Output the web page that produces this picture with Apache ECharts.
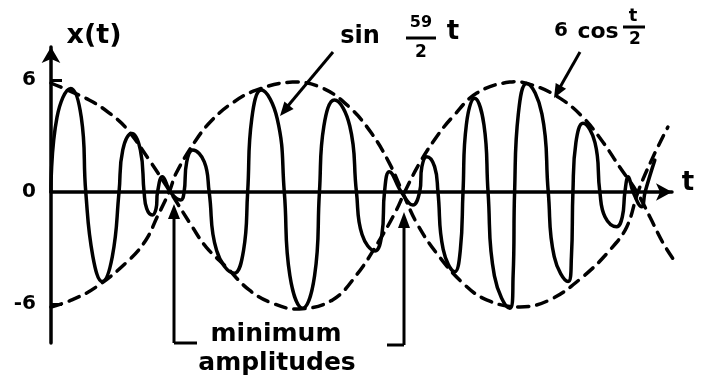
<!DOCTYPE html>
<html>
<head>
<meta charset="utf-8">
<script src="https://cdn.jsdelivr.net/npm/echarts@6/dist/echarts.min.js"></script>
<style>
  html, body { margin: 0; padding: 0; background: #fff; }
  #main { width: 704px; height: 382px; }
</style>
</head>
<body>
<div id="main"></div>
<script>
// x(t): hand drawn oscillation as [t, x]
// (zero crossings, extrema and the shoulders of each lobe)
var signal = [
  [0, 0], [0.16, 4.0], [0.53, 5.55], [0.81, 4.0], [0.93, 0],
  [1.12, -3.46], [1.37, -4.8], [1.64, -3.46], [1.82, 0],
  [1.92, 2.26], [2.16, 3.14], [2.39, 2.26], [2.49, 0],
  [2.56, -0.89], [2.71, -1.23], [2.81, -0.89], [2.85, 0],
  [2.98, 0.82], [3.21, -0.05], [3.47, -0.43], [3.56, 0],
  [3.63, 1.62], [3.79, 2.25], [4.1, 1.62], [4.23, 0],
  [4.43, -3.13], [4.9, -4.35], [5.15, -3.13], [5.26, 0],
  [5.37, 3.93], [5.62, 5.46], [6.05, 3.93], [6.24, 0],
  [6.39, -4.49], [6.73, -6.23], [7.05, -4.49], [7.18, 0],
  [7.3, 3.55], [7.58, 4.93], [7.99, 3.55], [8.17, 0],
  [8.32, -2.28], [8.67, -3.16], [8.85, -2.28], [8.92, 0],
  [9.05, 1.09], [9.37, 0], [9.68, -0.7], [9.86, 0],
  [9.92, 1.36], [10.05, 1.89], [10.26, 1.36], [10.35, 0],
  [10.49, -3.07], [10.8, -4.27], [10.95, -3.07], [11.02, 0],
  [11.11, 3.61], [11.33, 5.02], [11.58, 3.61], [11.69, 0],
  [11.86, -4.49], [12.27, -6.23], [12.36, -4.49], [12.4, 0],
  [12.5, 4.19], [12.72, 5.82], [13.13, 4.19], [13.3, 0],
  [13.46, -3.46], [13.83, -4.8], [13.92, -3.46], [13.96, 0],
  [14.04, 2.65], [14.23, 3.68], [14.55, 2.65], [14.68, 0],
  [14.82, -1.34], [15.13, -1.86], [15.28, -1.34], [15.35, 0],
  [15.44, 0.82], [15.57, 0], [15.8, -0.79], [15.89, 0], [16.15, 1.71]
]

// dashed envelope 6cos(t/2), as drawn
var envUpper = [
  [0, 5.84], [1.02, 4.93], [1.56, 4.23], [2.01, 3.43], [2.63, 1.71], [3.19, 0],
  [3.78, -1.87], [4.15, -2.95], [4.69, -4.02], [5.3, -5.25], [5.91, -5.95], [6.64, -6.27],
  [7.53, -5.78], [8.17, -4.45], [8.79, -2.57], [9.24, -0.96], [9.46, 0], [9.86, 1.55],
  [10.31, 2.95], [10.74, 4.02], [11.39, 5.3], [12.27, 5.89], [12.88, 5.73], [13.61, 5.03],
  [14.22, 4.02], [14.76, 2.68], [15.21, 1.34], [15.67, 0], [16.02, -1.34], [16.37, -2.73],
  [16.66, -3.64]
]

// mirror envelope -6cos(t/2)
var envLower = [
  [0, -6.16], [0.56, -5.78], [1.21, -5.09], [2.09, -3.64], [2.54, -2.57], [2.84, -1.34],
  [3.16, 0], [3.35, 1.02], [3.88, 2.79], [4.31, 3.86], [4.85, 4.77], [5.49, 5.46],
  [6.46, 5.89], [7.26, 5.57], [7.98, 4.55], [8.57, 3.16], [9.05, 1.55], [9.4, 0],
  [9.78, -1.66], [10.31, -3.27], [11.01, -4.87], [11.65, -5.78], [12.54, -6.16],
  [13.34, -5.78], [14.22, -4.55], [14.95, -3.11], [15.4, -1.87], [15.7, 0], [16.1, 1.87],
  [16.5, 3.48]
]

var yLabelValues = [-6, 0, 6]
var yTickValues = [-6, 6]

var FONT = 'DejaVu Sans'
var INK = '#000'

function txt (x, y, s, size) {
  return { type: 'text', x: x, y: y, z: 10, style: { text: s, fill: INK, font: 'bold ' + size + 'px "' + FONT + '"', align: 'center', verticalAlign: 'middle' } }
}
function seg (x1, y1, x2, y2) {
  return { type: 'line', shape: { x1: x1, y1: y1, x2: x2, y2: y2 }, style: { stroke: INK, lineWidth: 3 }, z: 10 }
}
function head (pts) {
  return { type: 'polygon', shape: { points: pts }, style: { fill: INK }, z: 10 }
}

// one free spline through all points (line series smoothing clamps and makes the tops pointy)
function curve (name, pts, smooth, dash) {
  return {
    name: name,
    type: 'custom',
    coordinateSystem: 'cartesian2d',
    data: pts,
    encode: { x: 0, y: 1 },
    renderItem: function (params, api) {
      if (params.dataIndex !== 0) return null
      return {
        type: 'polyline',
        shape: { points: pts.map(function (p) { return api.coord(p) }), smooth: smooth },
        style: { stroke: INK, fill: null, lineWidth: 3.5, lineDash: dash || null, lineJoin: 'round', lineCap: 'round' }
      }
    }
  }
}

var chart = echarts.init(document.getElementById('main'))
chart.setOption({
  animation: false,
  backgroundColor: '#fff',
  grid: { left: 51, right: 32, top: 47, bottom: 39 },
  xAxis: {
    type: 'value',
    min: 0,
    max: 16.61,
    axisLine: { show: true, onZero: true, symbol: ['none', 'arrow'], symbolSize: [13, 16], lineStyle: { color: INK, width: 3.5 } },
    axisTick: { show: false },
    axisLabel: { show: false },
    splitLine: { show: false }
  },
  yAxis: {
    type: 'value',
    min: -8.09,
    max: 7.77,
    axisLine: { show: true, symbol: ['none', 'arrow'], symbolSize: [14, 16], lineStyle: { color: INK, width: 3.5 } },
    axisTick: { show: true, inside: true, length: 11, customValues: yTickValues, lineStyle: { color: INK, width: 3 } },
    axisLabel: {
      show: true,
      customValues: yLabelValues,
      margin: 15,
      color: INK,
      fontFamily: FONT,
      fontWeight: 'bold',
      fontSize: 20,
      padding: [12, 0, 0, 0],
      formatter: function (v) { return v < 0 ? '-' + Math.abs(v) : String(v) }
    },
    splitLine: { show: false }
  },
  series: [
    curve('x(t)', signal, 0.45),
    curve('6cos', envUpper, 0.4, [11, 8]),
    curve('-6cos', envLower, 0.4, [11, 8])
  ],
  graphic: [
    txt(94, 36, 'x(t)', 27),
    txt(688, 183, 't', 26),
    // sin 59/2 t
    txt(360, 37, 'sin', 24),
    txt(421, 23, '59', 16),
    seg(406, 38, 436, 38),
    txt(421, 53, '2', 17),
    txt(453, 32, 't', 26),
    seg(333, 52, 287, 107),
    head([[280, 116], [293.6, 109], [284.4, 101.4]]),
    // 6 cos t/2
    txt(561, 31, '6', 20),
    txt(598, 32, 'cos', 22),
    txt(633, 16, 't', 18),
    seg(623, 27, 645, 27),
    txt(635, 40, '2', 17),
    seg(580, 52, 559, 89),
    head([[554, 98], [566.1, 88.7], [555.7, 82.9]]),
    // minimum amplitudes brackets
    seg(174, 343, 174, 216),
    head([[174, 204], [168, 219], [180, 219]]),
    seg(174, 343, 197, 343),
    seg(404, 345, 404, 226),
    head([[404, 212], [398, 228], [410, 228]]),
    seg(387, 345, 404, 345),
    txt(276, 334, 'minimum', 25),
    txt(277, 363, 'amplitudes', 25)
  ]
})
</script>
</body>
</html>
